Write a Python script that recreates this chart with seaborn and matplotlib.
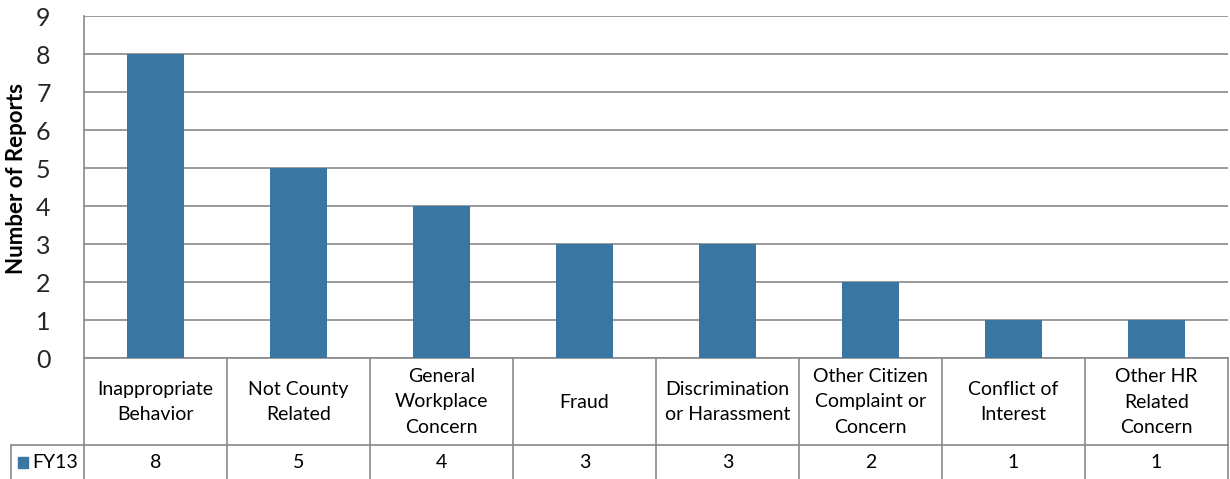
import matplotlib
matplotlib.use("Agg")
import matplotlib.pyplot as plt
import seaborn as sns
import pandas as pd
from matplotlib.patches import Rectangle

categories = [
    "Inappropriate\nBehavior",
    "Not County\nRelated",
    "General\nWorkplace\nConcern",
    "Fraud",
    "Discrimination\nor Harassment",
    "Other Citizen\nComplaint or\nConcern",
    "Conflict of\nInterest",
    "Other HR\nRelated\nConcern",
]
fy13 = [8, 5, 4, 3, 3, 2, 1, 1]
series_name = "FY13"
y_ticks = list(range(0, 10))

bar_color = "#3A76A2"
line_color = "#898989"

sns.set_theme(style="white")
plt.rcParams["font.family"] = ["Lato", "DejaVu Sans"]

df = pd.DataFrame({"category": categories, "reports": fy13})

W, H = 1230, 479
fig = plt.figure(figsize=(W / 100, H / 100), dpi=100)
left_px, right_px, top_px, bottom_px = 84, 1228, 16, 358
ax = fig.add_axes([left_px / W, 1 - bottom_px / H,
                   (right_px - left_px) / W, (bottom_px - top_px) / H])

sns.barplot(data=df, x="category", y="reports", color=bar_color,
            width=0.4, saturation=1, linewidth=0, ax=ax, zorder=3)

ax.set_ylim(0, 9)
ax.set_xlim(-0.5, len(categories) - 0.5)
ax.set_yticks(y_ticks)
ax.set_yticklabels([str(t) for t in y_ticks], fontsize=18)
ax.tick_params(axis="y", length=0, pad=24)
ax.set_xticks([])
ax.set_xlabel("")
ax.set_ylabel("")
ax.yaxis.grid(True, color=line_color, linewidth=1.2, zorder=0)
for side in ["top", "right"]:
    ax.spines[side].set_visible(False)
ax.spines["left"].set_color(line_color)
ax.spines["left"].set_linewidth(1.2)
ax.spines["bottom"].set_color(line_color)
ax.spines["bottom"].set_linewidth(1.2)

# Data table underneath the plot area (figure pixel coordinates)
def fx(px):
    return px / W

def fy(py):
    return 1 - py / H

fig.text(fx(17), fy(178), "Number of Reports", rotation=90, ha="center",
         va="center", fontsize=16, fontweight="bold", color="#000000")

cat_w = (right_px - left_px) / len(categories)
row_px = 445
lw = 1.2
lines = []
for i in range(len(categories) + 1):
    x = left_px + i * cat_w
    lines.append(([fx(x), fx(x)], [fy(bottom_px), fy(H + 2)]))
lines.append(([fx(11), fx(right_px)], [fy(row_px), fy(row_px)]))
lines.append(([fx(11), fx(11)], [fy(row_px), fy(H + 2)]))
for xs, ys in lines:
    fig.add_artist(plt.Line2D(xs, ys, color=line_color, linewidth=lw,
                              transform=fig.transFigure))

for i, (cat, val) in enumerate(zip(categories, fy13)):
    cx = left_px + (i + 0.5) * cat_w
    fig.text(fx(cx), fy(402), cat, ha="center",
             va="center", fontsize=14, linespacing=1.6, color="#000000")
    fig.text(fx(cx), fy(463), str(val), ha="center", va="center",
             fontsize=14, color="#000000")

fig.add_artist(Rectangle((fx(18), fy(468)), 10 / W, 11 / H,
                         transform=fig.transFigure, color=bar_color))
fig.text(fx(32), fy(463), series_name, ha="left", va="center",
         fontsize=14, color="#000000")

fig.savefig("out.png", dpi=100)
